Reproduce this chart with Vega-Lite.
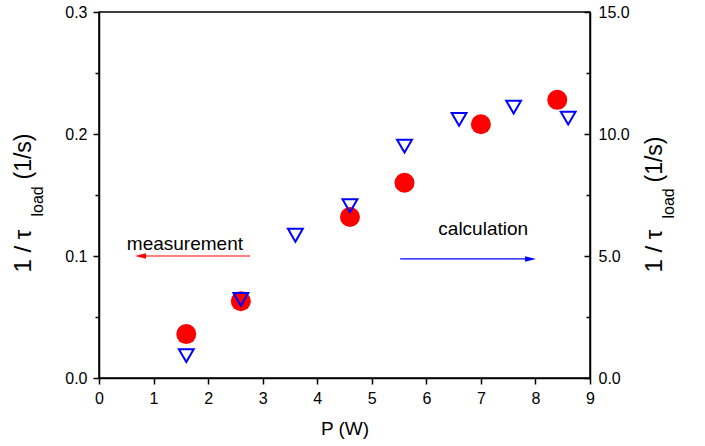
{
  "$schema": "https://vega.github.io/schema/vega-lite/v6.json",
  "width": 491,
  "height": 366,
  "autosize": {"type": "none"},
  "padding": {"left": 99, "top": 12, "right": 115, "bottom": 68},
  "background": "white",
  "config": {
    "font": "Liberation Sans",
    "view": {"stroke": "#000", "strokeWidth": 1.5},
    "axis": {
      "domainColor": "#000", "domainWidth": 1.5, "tickColor": "#000", "tickWidth": 1.5,
      "labelColor": "#000", "titleColor": "#000", "labelFont": "Liberation Sans", "titleFont": "Liberation Sans",
      "titleFontWeight": "normal", "grid": false, "labelFontSize": 16, "labelOverlap": false, "labelFlush": false, "labelBound": false
    }
  },
  "datasets": {
    "meas": [
      {"P": 1.6, "r": 0.036}, {"P": 2.6, "r": 0.063}, {"P": 4.6, "r": 0.132},
      {"P": 5.6, "r": 0.160}, {"P": 7.0, "r": 0.208}, {"P": 8.4, "r": 0.228}
    ],
    "calc": [
      {"P": 1.6, "r": 0.92}, {"P": 2.6, "r": 3.22}, {"P": 3.6, "r": 5.85}, {"P": 4.6, "r": 7.06},
      {"P": 5.6, "r": 9.5}, {"P": 6.6, "r": 10.6}, {"P": 7.6, "r": 11.1}, {"P": 8.6, "r": 10.65}
    ],
    "measLabel": [{"label": "measurement", "x": 0.51, "y": 0.105}],
    "calcLabel": [{"label": "calculation", "x": 6.22, "y": 5.87}],
    "measArrow": [{"x": 0.76, "x2": 2.77, "y": 0.1}],
    "calcArrow": [{"x": 5.52, "x2": 7.91, "y": 4.88}]
  },
  "layer": [
    {
      "data": {"name": "meas"},
      "mark": {"type": "point", "shape": "circle", "filled": true, "color": "#ff0000", "opacity": 1, "size": 400, "strokeWidth": 0},
      "encoding": {
        "x": {
          "field": "P", "type": "quantitative", "title": "P (W)",
          "scale": {"domain": [0, 9], "nice": false, "zero": false},
          "axis": {
            "orient": "bottom",
            "values": [0, 0.5, 1, 1.5, 2, 2.5, 3, 3.5, 4, 4.5, 5, 5.5, 6, 6.5, 7, 7.5, 8, 8.5, 9],
            "labelExpr": "datum.value % 1 == 0 ? format(datum.value, 'd') : ''",
            "tickSize": {"condition": {"test": "datum.value % 1 == 0", "value": 6}, "value": 4},
            "labelPadding": 6, "labelFontSize": 16, "titleFontSize": 19, "titlePadding": 13
          }
        },
        "y": {
          "field": "r", "type": "quantitative",
          "scale": {"domain": [0, 0.3], "nice": false, "zero": false},
          "axis": {
            "orient": "left",
            "values": [0, 0.05, 0.1, 0.15, 0.2, 0.25, 0.3],
            "labelExpr": "round(datum.value * 100) % 10 == 0 ? format(datum.value, '.1f') : ''",
            "tickSize": {"condition": {"test": "round(datum.value * 100) % 10 == 0", "value": 6}, "value": 4},
            "labelPadding": 6,
            "title": "1 / τ", "titleFontSize": 24, "titleAngle": 270, "titleX": -69, "titleY": 260,
            "titleAlign": "left", "titleBaseline": "alphabetic"
          }
        }
      }
    },
    {
      "data": {"name": "calc"},
      "mark": {"type": "point", "shape": "triangle-down", "filled": false, "fill": null, "color": "#0000ff", "opacity": 1, "size": 220, "strokeWidth": 2},
      "encoding": {
        "x": {"field": "P", "type": "quantitative", "title": "P (W)"},
        "y": {
          "field": "r", "type": "quantitative",
          "scale": {"domain": [0, 15], "nice": false, "zero": false},
          "axis": {
            "orient": "right",
            "values": [0, 2.5, 5, 7.5, 10, 12.5, 15],
            "labelExpr": "datum.value % 5 == 0 ? format(datum.value, '.1f') : ''",
            "tickSize": {"condition": {"test": "datum.value % 5 == 0", "value": -6}, "value": -4},
            "labelPadding": 14,
            "title": "1 / τ", "titleFontSize": 24, "titleAngle": 270, "titleX": 71, "titleY": 260,
            "titleAlign": "left", "titleBaseline": "alphabetic"
          }
        }
      }
    },
    {
      "data": {"name": "measLabel"},
      "mark": {"type": "text", "align": "left", "baseline": "alphabetic", "fontSize": 19, "color": "#000"},
      "encoding": {
        "x": {"field": "x", "type": "quantitative", "title": "P (W)"},
        "y": {
          "field": "y", "type": "quantitative", "scale": {"domain": [0, 0.3], "nice": false, "zero": false},
          "axis": {"orient": "left", "domain": false, "ticks": false, "labels": false,
            "title": "load", "titleFontSize": 16, "titleAngle": 270, "titleX": -57, "titleY": 204,
            "titleAlign": "left", "titleBaseline": "alphabetic"}
        },
        "text": {"field": "label"}
      }
    },
    {
      "data": {"name": "calcLabel"},
      "mark": {"type": "text", "align": "left", "baseline": "alphabetic", "fontSize": 19, "color": "#000"},
      "encoding": {
        "x": {"field": "x", "type": "quantitative", "title": "P (W)"},
        "y": {
          "field": "y", "type": "quantitative", "scale": {"domain": [0, 15], "nice": false, "zero": false},
          "axis": {"orient": "right", "domain": false, "ticks": false, "labels": false,
            "title": "load", "titleFontSize": 16, "titleAngle": 270, "titleX": 83, "titleY": 206,
            "titleAlign": "left", "titleBaseline": "alphabetic"}
        },
        "text": {"field": "label"}
      }
    },
    {
      "data": {"name": "measArrow"},
      "mark": {"type": "rule", "color": "#ff0000", "strokeWidth": 1.2},
      "encoding": {
        "x": {"field": "x", "type": "quantitative", "title": "P (W)"},
        "x2": {"field": "x2"},
        "y": {
          "field": "y", "type": "quantitative", "scale": {"domain": [0, 0.3], "nice": false, "zero": false},
          "axis": {"orient": "left", "domain": false, "ticks": false, "labels": false,
            "title": "(1/s)", "titleFontSize": 23, "titleAngle": 270, "titleX": -69, "titleY": 167,
            "titleAlign": "left", "titleBaseline": "alphabetic"}
        }
      }
    },
    {
      "data": {"name": "measArrow"},
      "mark": {"type": "point", "shape": "M1,-0.5L-1,0L1,0.5Z", "filled": true, "color": "#ff0000", "opacity": 1, "size": 121, "strokeWidth": 0},
      "encoding": {
        "x": {"field": "x", "type": "quantitative", "title": "P (W)"},
        "y": {"field": "y", "type": "quantitative", "scale": {"domain": [0, 0.3], "nice": false, "zero": false}, "axis": null}
      }
    },
    {
      "data": {"name": "calcArrow"},
      "mark": {"type": "rule", "color": "#0000ff", "strokeWidth": 1.3},
      "encoding": {
        "x": {"field": "x", "type": "quantitative", "title": "P (W)"},
        "x2": {"field": "x2"},
        "y": {
          "field": "y", "type": "quantitative", "scale": {"domain": [0, 15], "nice": false, "zero": false},
          "axis": {"orient": "right", "domain": false, "ticks": false, "labels": false,
            "title": "(1/s)", "titleFontSize": 23, "titleAngle": 270, "titleX": 71, "titleY": 170,
            "titleAlign": "left", "titleBaseline": "alphabetic"}
        }
      }
    },
    {
      "data": {"name": "calcArrow"},
      "mark": {"type": "point", "shape": "M-1,-0.5L1,0L-1,0.5Z", "filled": true, "color": "#0000ff", "opacity": 1, "size": 121, "strokeWidth": 0},
      "encoding": {
        "x": {"field": "x2", "type": "quantitative", "title": "P (W)"},
        "y": {"field": "y", "type": "quantitative", "scale": {"domain": [0, 15], "nice": false, "zero": false}, "axis": null}
      }
    }
  ],
  "resolve": {"scale": {"y": "independent"}}
}
